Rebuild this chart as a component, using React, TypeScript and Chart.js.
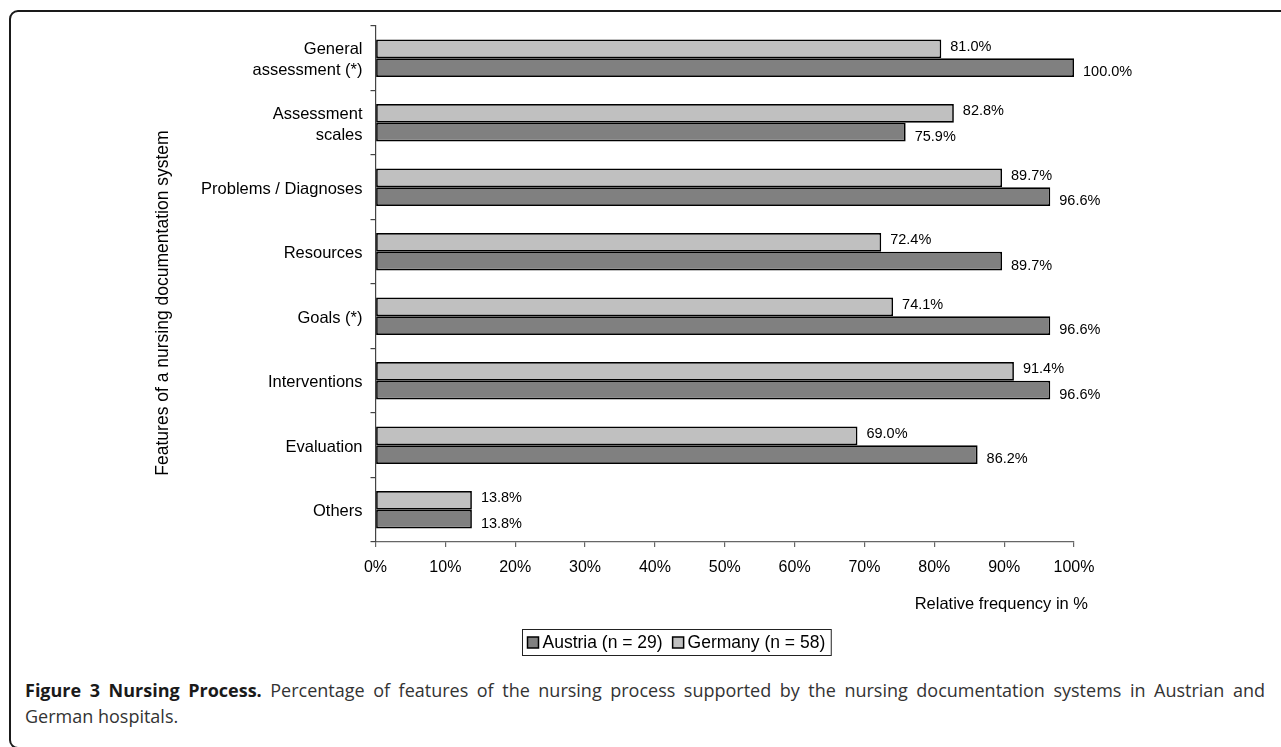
import React, { useEffect, useRef } from "react";
import { Chart, registerables } from "chart.js";

Chart.register(...registerables);

// ---- data ----
const categories: (string | string[])[] = [
  ["General", "assessment (*)"],
  ["Assessment", "scales"],
  "Problems / Diagnoses",
  "Resources",
  "Goals (*)",
  "Interventions",
  "Evaluation",
  "Others",
];
const germany = [81.0, 82.8, 89.7, 72.4, 74.1, 91.4, 69.0, 13.8];
const austria = [100.0, 75.9, 96.6, 89.7, 96.6, 96.6, 86.2, 13.8];
const xTickLabels = ["0%", "10%", "20%", "30%", "40%", "50%", "60%", "70%", "80%", "90%", "100%"];
const seriesNames = { austria: "Austria (n = 29)", germany: "Germany (n = 58)" };
const xTitle = "Relative frequency in %";
const yTitle = "Features of a nursing documentation system";
const captionBold = "Figure 3 Nursing Process.";
const captionLine1 =
  " Percentage of features of the nursing process supported by the nursing documentation systems in Austrian and";
const captionLine2 = "German hospitals.";

// ---- styles ----
const FONT = '"Liberation Sans", Arial, Helvetica, sans-serif';
const GERMANY_COLOR = "#c0c0c0";
const AUSTRIA_COLOR = "#808080";

const decorPlugin = {
  id: "decor",
  afterDatasetsDraw(chart: any) {
    const ctx = chart.ctx as CanvasRenderingContext2D;
    ctx.save();
    ctx.fillStyle = "#000";
    ctx.textBaseline = "middle";
    ctx.textAlign = "left";
    ctx.font = `14.5px ${FONT}`;
    chart.data.datasets.forEach((ds: any, i: number) => {
      const meta = chart.getDatasetMeta(i);
      meta.data.forEach((bar: any, j: number) => {
        const v = ds.data[j] as number;
        ctx.fillText(`${v.toFixed(1)}%`, bar.x + 9, bar.y + (i === 0 ? -2 : 4.5));
      });
    });
    ctx.restore();
  },
  afterDraw(chart: any) {
    const ctx = chart.ctx as CanvasRenderingContext2D;
    const xs = chart.scales.x;
    const ys = chart.scales.y;
    const area = chart.chartArea;
    ctx.save();
    ctx.fillStyle = "#000";
    // x axis title
    ctx.font = `16.5px ${FONT}`;
    ctx.textAlign = "right";
    ctx.textBaseline = "middle";
    ctx.fillText(xTitle, xs.right + 14, area.bottom + 62);
    // y axis title
    ctx.save();
    ctx.font = `17.5px ${FONT}`;
    ctx.translate(ys.left + 23, (area.top + area.bottom) / 2 + 19);
    ctx.rotate(-Math.PI / 2);
    ctx.textAlign = "center";
    ctx.textBaseline = "middle";
    ctx.fillText(yTitle, 0, 0);
    ctx.restore();
    // legend
    const items = [
      { label: chart.data.datasets[1].label, color: chart.data.datasets[1].backgroundColor },
      { label: chart.data.datasets[0].label, color: chart.data.datasets[0].backgroundColor },
    ];
    ctx.font = `17.5px ${FONT}`;
    const widths = items.map((it) => ctx.measureText(it.label).width);
    const marker = 11;
    const padL = 5,
      padR = 6,
      gapText = 4,
      gapItem = 10;
    const total = padL + marker + gapText + widths[0] + gapItem + marker + gapText + widths[1] + padR;
    const cx = (area.left + area.right) / 2 - 48;
    const boxL = Math.round(cx - total / 2) + 0.5;
    const boxT = Math.round(area.bottom + 87) + 0.5;
    const boxH = 26;
    ctx.strokeStyle = "#222";
    ctx.lineWidth = 1;
    ctx.strokeRect(boxL, boxT, total, boxH);
    let x = boxL + padL;
    const midY = boxT + boxH / 2;
    items.forEach((it, k) => {
      ctx.fillStyle = it.color;
      ctx.fillRect(x, midY - marker / 2, marker, marker);
      ctx.strokeStyle = "#000";
      ctx.lineWidth = 1.5;
      ctx.strokeRect(x, midY - marker / 2, marker, marker);
      x += marker + gapText;
      ctx.fillStyle = "#000";
      ctx.textAlign = "left";
      ctx.textBaseline = "middle";
      ctx.fillText(it.label, x, midY + 1);
      x += widths[k] + gapItem;
    });
    ctx.restore();
  },
};

function ChartView() {
  const ref = useRef<HTMLCanvasElement | null>(null);
  useEffect(() => {
    if (!ref.current) return;
    const chart = new Chart(ref.current, {
      type: "bar",
      data: {
        labels: categories,
        datasets: [
          {
            label: seriesNames.germany,
            data: germany,
            backgroundColor: GERMANY_COLOR,
            borderColor: "#000",
            borderWidth: 1.7,
            borderSkipped: false,
            categoryPercentage: 0.58,
            barPercentage: 1.0,
          },
          {
            label: seriesNames.austria,
            data: austria,
            backgroundColor: AUSTRIA_COLOR,
            borderColor: "#000",
            borderWidth: 1.7,
            borderSkipped: false,
            categoryPercentage: 0.58,
            barPercentage: 1.0,
          },
        ],
      } as any,
      options: {
        indexAxis: "y",
        animation: false,
        responsive: false,
        maintainAspectRatio: false,
        layout: { padding: { left: 140, top: 26, right: 207, bottom: 68 } },
        plugins: {
          legend: { display: false },
          tooltip: { enabled: false },
          title: { display: false },
        },
        scales: {
          x: {
            type: "linear",
            min: 0,
            max: 100,
            ticks: {
              stepSize: 10,
              padding: 11,
              color: "#000",
              maxRotation: 0,
              font: { family: FONT, size: 16 },
              callback: (_v: any, i: number) => xTickLabels[i],
            },
            grid: { drawOnChartArea: false, drawTicks: true, tickLength: 5, color: "#666", lineWidth: 1.2 },
            border: { display: true, color: "#666", width: 1.2 },
            afterFit: (s: any) => {
              s.height = 60;
            },
          },
          y: {
            type: "category",
            ticks: {
              padding: 8,
              labelOffset: 2,
              color: "#000",
              font: { family: FONT, size: 16.5, lineHeight: 1.27 },
            },
            grid: { offset: true, drawOnChartArea: false, drawTicks: true, tickLength: 5, color: "#444", lineWidth: 1.2 },
            border: { display: true, color: "#444", width: 1.2 },
            afterFit: (s: any) => {
              s.width = 235.5;
            },
          },
        },
      } as any,
      plugins: [decorPlugin],
    });
    return () => chart.destroy();
  }, []);
  return <canvas ref={ref} width={1281} height={670} style={{ position: "absolute", left: 0, top: 0, width: 1281, height: 670 }} />;
}

export default function App() {
  return (
    <div
      style={{
        position: "fixed",
        left: 0,
        top: 0,
        width: 1281,
        height: 747,
        overflow: "hidden",
        background: "#fff",
      }}
    >
      <div
        style={{
          position: "absolute",
          left: 9,
          top: 10,
          width: 1300,
          height: 739,
          boxSizing: "border-box",
          border: "2px solid #1a1a1a",
          borderRadius: 9,
        }}
      />
      <ChartView />
      <div
        style={{
          position: "absolute",
          left: 25,
          top: 677,
          width: 1240,
          fontFamily: '"Open Sans", sans-serif',
          fontSize: 18,
          lineHeight: "26px",
          color: "#333",
        }}
      >
        <div style={{ textAlign: "justify", textAlignLast: "justify", whiteSpace: "nowrap" } as any}>
          <b style={{ color: "#1a1a1a" }}>{captionBold}</b>
          {captionLine1}
        </div>
        <div>{captionLine2}</div>
      </div>
    </div>
  );
}
